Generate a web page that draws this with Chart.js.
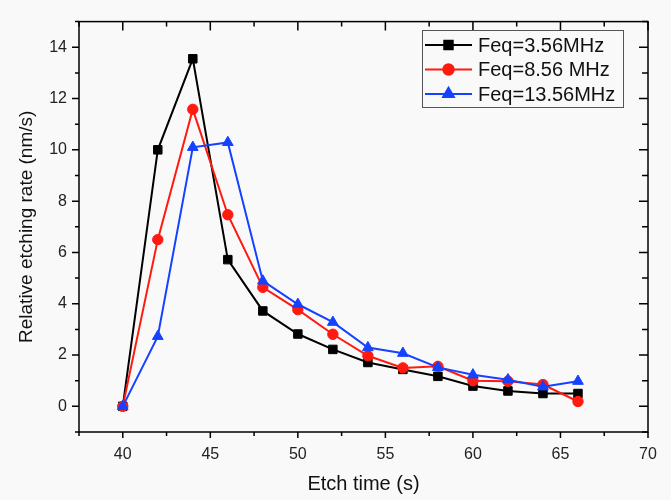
<!DOCTYPE html>
<html>
<head>
<meta charset="utf-8">
<script src="https://cdn.jsdelivr.net/npm/chart.js@4"></script>
<style>
  body { margin: 0; background: #f9f9f9; }
</style>
</head>
<body>
<canvas id="etchChart" width="671" height="500"></canvas>
<script>
// Etch time (s)
const etchTimes = [40, 42, 44, 46, 48, 50, 52, 54, 56, 58, 60, 62, 64, 66];

// Relative etching rate (nm/s) for each frequency
const rate356 = [0, 10.0, 13.55, 5.72, 3.72, 2.82, 2.22, 1.71, 1.44, 1.17, 0.79, 0.6, 0.5, 0.5];
const rate856 = [0, 6.5, 11.58, 7.47, 4.64, 3.77, 2.81, 1.97, 1.5, 1.56, 1.0, 0.98, 0.85, 0.19];
const rate1356 = [0, 2.73, 10.1, 10.29, 4.89, 3.98, 3.28, 2.29, 2.07, 1.52, 1.23, 1.04, 0.76, 0.98];

const seriesLabels = ["Feq=3.56MHz", "Feq=8.56 MHz", "Feq=13.56MHz"];

// tick positions
const xMajorTicks = [40, 45, 50, 55, 60, 65, 70];
const xMinorTicks = [37.5, 42.5, 47.5, 52.5, 57.5, 62.5, 67.5];
const yMajorTicks = [0, 2, 4, 6, 8, 10, 12, 14];
const yMinorTicks = [-1, 1, 3, 5, 7, 9, 11, 13, 15];

const FONT = "'Liberation Sans', Arial, sans-serif";

const toPoints = (vals) => vals.map((v, i) => ({ x: etchTimes[i], y: v }));

// frame with Origin-style ticks: out on bottom/left, in on top/right
const frameTicks = {
  id: "frameTicks",
  afterDraw(chart) {
    const { ctx, chartArea: a, scales } = chart;
    const x = scales.x, y = scales.y;
    ctx.save();
    ctx.strokeStyle = "#000";
    ctx.lineWidth = 1.5;
    ctx.strokeRect(a.left, a.top, a.right - a.left, a.bottom - a.top);
    const tick = (vals, len, isX) => {
      vals.forEach((v) => {
        ctx.beginPath();
        if (isX) {
          const px = x.getPixelForValue(v);
          ctx.moveTo(px, a.bottom); ctx.lineTo(px, a.bottom + len.out);
          ctx.moveTo(px, a.top); ctx.lineTo(px, a.top + len.in);
        } else {
          const py = y.getPixelForValue(v);
          ctx.moveTo(a.left, py); ctx.lineTo(a.left - len.out, py);
          ctx.moveTo(a.right, py); ctx.lineTo(a.right - len.in, py);
        }
        ctx.stroke();
      });
    };
    tick(xMajorTicks, { out: 6, in: 9 }, true);
    tick(xMinorTicks, { out: 4, in: 5 }, true);
    tick(yMajorTicks, { out: 7, in: 9 }, false);
    tick(yMinorTicks, { out: 4, in: 6 }, false);
    ctx.restore();
  },
};

// legend box with line + marker samples
const lineLegend = {
  id: "lineLegend",
  afterDraw(chart) {
    const { ctx } = chart;
    const bx = 422, by = 30, bw = 201, bh = 77;
    ctx.save();
    ctx.strokeStyle = "#555";
    ctx.lineWidth = 1;
    ctx.strokeRect(bx + 0.5, by + 0.5, bw, bh);
    ctx.font = "20px " + FONT;
    ctx.textBaseline = "middle";
    chart.data.datasets.forEach((ds, i) => {
      const cy = by + 15 + i * 24.5;
      ctx.strokeStyle = ds.borderColor;
      ctx.lineWidth = 2;
      ctx.beginPath();
      ctx.moveTo(bx + 3, cy);
      ctx.lineTo(bx + 50, cy);
      ctx.stroke();
      ctx.fillStyle = ds.backgroundColor;
      Chart.helpers.drawPoint(ctx, { pointStyle: ds.pointStyle, radius: ds.pointRadius, rotation: 0, borderWidth: 1 }, bx + 26.5, cy);
      ctx.fillStyle = "#111";
      ctx.fillText(ds.label, bx + 56, cy + 1);
    });
    ctx.restore();
  },
};

new Chart(document.getElementById("etchChart"), {
  type: "line",
  data: {
    datasets: [
      {
        label: seriesLabels[0],
        data: toPoints(rate356),
        borderColor: "#000000",
        backgroundColor: "#000000",
        pointStyle: "rect",
        pointRadius: 6,
        order: 2,
      },
      {
        label: seriesLabels[1],
        data: toPoints(rate856),
        borderColor: "#ff1a0f",
        backgroundColor: "#ff1a0f",
        pointStyle: "circle",
        pointRadius: 5.2,
        order: 1,
      },
      {
        label: seriesLabels[2],
        data: toPoints(rate1356),
        borderColor: "#1442ff",
        backgroundColor: "#1442ff",
        pointStyle: "triangle",
        pointRadius: 6.2,
        order: 0,
      },
    ],
  },
  options: {
    responsive: false,
    animation: false,
    devicePixelRatio: 1,
    elements: {
      line: { borderWidth: 2, tension: 0 },
      point: { borderWidth: 1 },
    },
    layout: { padding: { top: 11, right: 23, left: 0, bottom: 0 } },
    plugins: {
      legend: { display: false },
      tooltip: { enabled: false },
    },
    scales: {
      x: {
        type: "linear",
        min: 37.5,
        max: 70,
        afterBuildTicks: (s) => { s.ticks = xMajorTicks.map((v) => ({ value: v })); },
        afterFit: (s) => { s.height = 68; },
        grid: { display: false, drawTicks: false },
        border: { display: false },
        ticks: { color: "#222", font: { family: FONT, size: 16 }, padding: 13 },
        title: {
          display: true,
          text: "Etch time (s)",
          color: "#111",
          font: { family: FONT, size: 20 },
          padding: { top: 0, bottom: 4 },
        },
      },
      y: {
        type: "linear",
        min: -1,
        max: 15,
        afterBuildTicks: (s) => { s.ticks = yMajorTicks.map((v) => ({ value: v })); },
        afterFit: (s) => { s.width = 79; },
        grid: { display: false, drawTicks: false },
        border: { display: false },
        ticks: { color: "#222", font: { family: FONT, size: 16 }, padding: 12 },
        title: {
          display: true,
          text: "Relative etching rate (nm/s)",
          color: "#111",
          font: { family: FONT, size: 19 },
          padding: { top: 15, bottom: 0 },
        },
      },
    },
  },
  plugins: [frameTicks, lineLegend],
});
</script>
</body>
</html>
